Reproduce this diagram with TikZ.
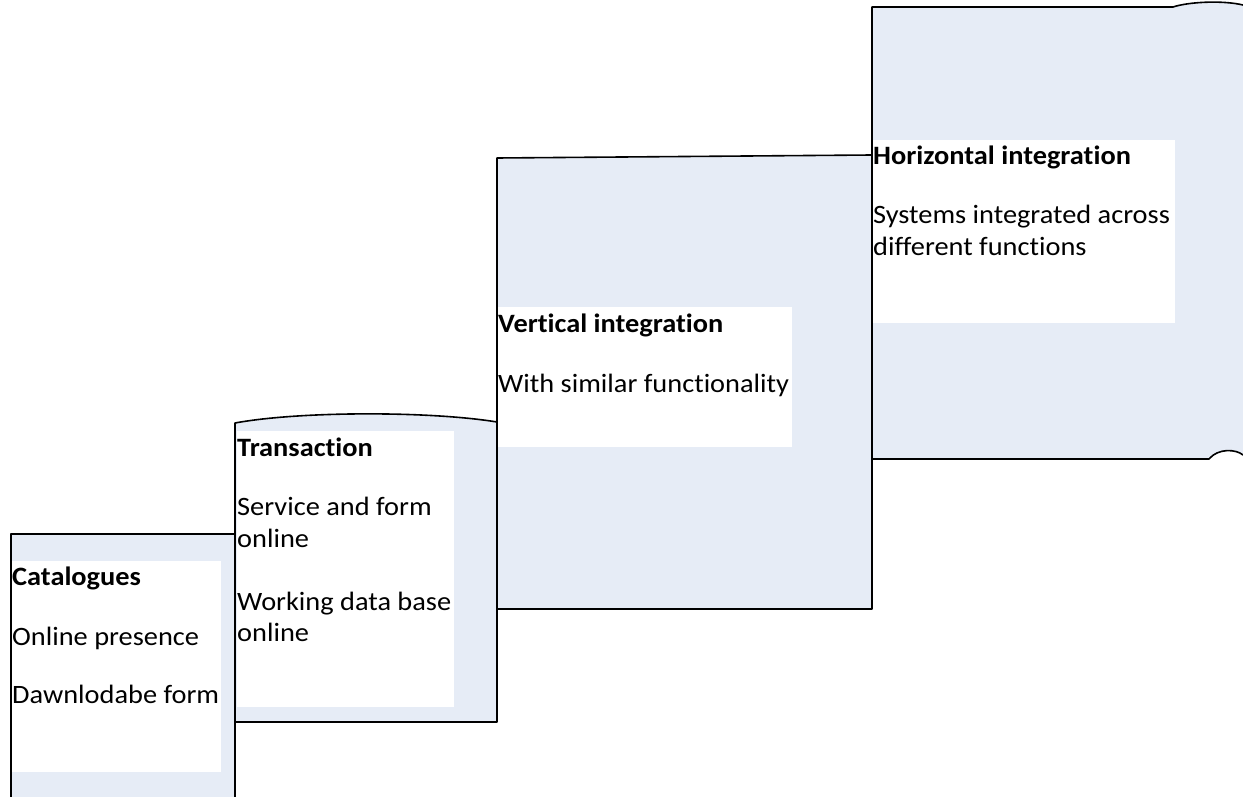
\documentclass[tikz,border=0pt]{standalone}
\usepackage{fontspec}
\setmainfont{Carlito}[FakeStretch=1.07,Ligatures=NoCommon]
\definecolor{boxfill}{RGB}{230,236,246}
\tikzset{
  stepfill/.style={fill=boxfill},
  stepline/.style={draw=black,line width=1.6pt,line cap=round,line join=round},
  whitearea/.style={fill=white},
  txt/.style={anchor=base west,inner sep=0pt,font=\fontsize{26.5}{31}\selectfont},
  ttl/.style={txt,font=\fontsize{26.5}{31}\selectfont\bfseries},
}
\begin{document}
\begin{tikzpicture}[x=1pt,y=-1pt]
\useasboundingbox (0,0) rectangle (1243,797);
% ---- Catalogues box
\fill[stepfill] (11,534) rectangle (235,797);
\fill[whitearea] (11,561) rectangle (221,772);
\draw[stepline] (11,797) -- (11,534) -- (235,534) -- (235,797);
% ---- Transaction box
\fill[stepfill] (235,423) .. controls (300,411) and (430,411) .. (497,422) -- (497,722) -- (235,722) -- cycle;
\fill[whitearea] (237,431) rectangle (454,707);
\draw[stepline] (235,722) -- (235,423) .. controls (300,411) and (430,411) .. (497,422) -- (497,722) -- cycle;
% ---- Vertical integration box
\fill[stepfill] (497,158) -- (872,155) -- (872,609) -- (497,609) -- cycle;
\fill[whitearea] (498,307) rectangle (792,447);
\draw[stepline] (497,158) -- (872,155) -- (872,609) -- (497,609) -- cycle;
% ---- Horizontal integration box
\fill[stepfill] (872,7) -- (1173,7) .. controls (1188,2) and (1222,0) .. (1243,5) -- (1243,455)
  .. controls (1236,449) and (1218,448) .. (1209,459) -- (872,459) -- cycle;
\fill[whitearea] (873,140) rectangle (1175,323);
\draw[stepline] (1243,5) .. controls (1222,0) and (1188,2) .. (1173,7) -- (872,7) -- (872,459) -- (1209,459)
  .. controls (1218,448) and (1236,449) .. (1243,455);
% ---- Texts
\node[ttl] (c1) at (12,585) {Catalogues};
\node[txt] (c2) at (12,645) {Online presence};
\node[txt] (c3) at (12,703) {Dawnlodabe form};
\node[ttl] (t1) at (237,456) {Transaction};
\node[txt] (t2) at (237,515) {Service and form};
\node[txt] (t3) at (237,547) {online};
\node[txt] (t4) at (237,610) {Working data base};
\node[txt] (t5) at (237,641) {online};
\node[ttl] (v1) at (498,332) {Vertical integration};
\node[txt] (v2) at (498,392) {With similar functionality};
\node[ttl] (h1) at (873,165) {Horizontal integration};
\node[txt] (h2) at (873,223) {Systems integrated across};
\node[txt] (h3) at (873,255) {different functions};
\end{tikzpicture}
\end{document}
